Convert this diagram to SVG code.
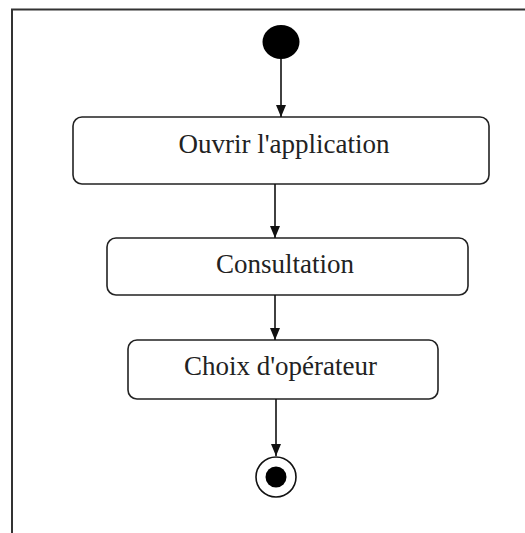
<svg xmlns="http://www.w3.org/2000/svg" width="525" height="533" viewBox="0 0 525 533">
<style>
.box{fill:#fff;stroke:#222;stroke-width:1.6}
.lbl{font-family:"Liberation Serif","Times New Roman",serif;font-size:27px;fill:#222;text-anchor:middle}
.edge{stroke:#111;stroke-width:1.6;fill:none}
</style>
<defs>
<marker id="arr" viewBox="0 0 12 10" refX="12" refY="5" markerWidth="12" markerHeight="10" markerUnits="userSpaceOnUse" orient="auto">
<path d="M0,0 L12,5 L0,10 Z" fill="#111"/>
</marker>
</defs>
<rect width="525" height="533" fill="#fff"/>
<path d="M12,540 L12,9.5 L530,9.5" fill="none" stroke="#333" stroke-width="2"/>
<g id="start"><ellipse cx="281" cy="42" rx="18.5" ry="17" fill="#000"/></g>
<g id="n1"><rect class="box" x="73" y="117" width="416" height="67" rx="9"/><text class="lbl" x="284" y="153">Ouvrir l'application</text></g>
<g id="n2"><rect class="box" x="107" y="238" width="361" height="57" rx="9"/><text class="lbl" x="285" y="273">Consultation</text></g>
<g id="n3"><rect class="box" x="128" y="340" width="310" height="59" rx="9"/><text class="lbl" x="280.5" y="375">Choix d'opérateur</text></g>
<g id="end"><circle cx="276" cy="477" r="20" fill="#fff" stroke="#111" stroke-width="1.6"/><circle cx="276" cy="477" r="10.5" fill="#000"/></g>
<g id="edges">
<line class="edge" x1="281" y1="59" x2="281" y2="117" marker-end="url(#arr)"/>
<line class="edge" x1="275" y1="184" x2="275" y2="238" marker-end="url(#arr)"/>
<line class="edge" x1="275" y1="295" x2="275" y2="340" marker-end="url(#arr)"/>
<line class="edge" x1="276" y1="399" x2="276" y2="456" marker-end="url(#arr)"/>
</g>
</svg>
